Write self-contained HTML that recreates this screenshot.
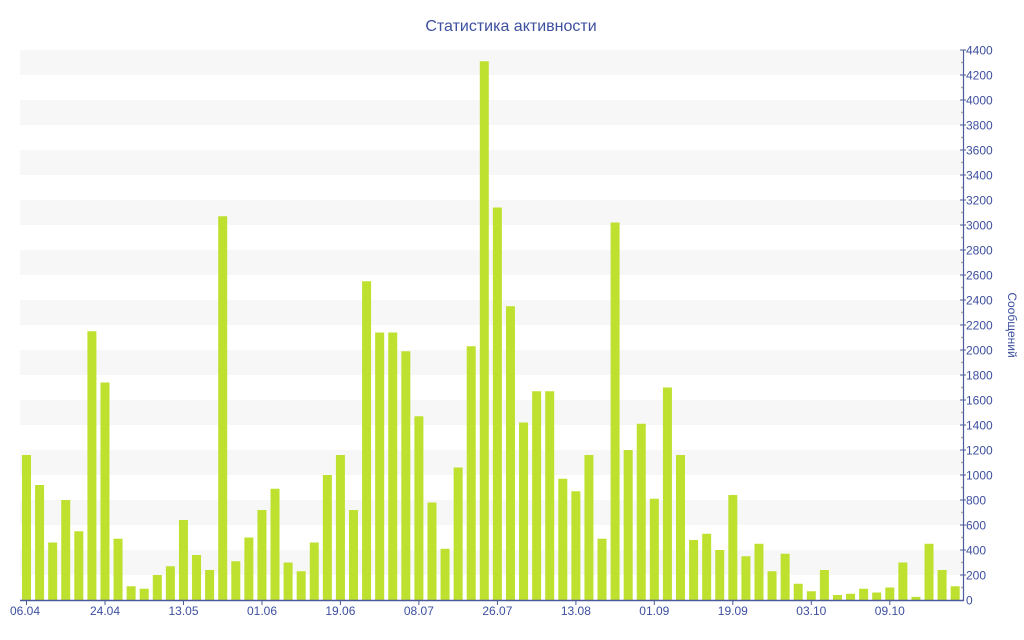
<!DOCTYPE html>
<html><head><meta charset="utf-8"><style>body{margin:0;background:#fff}svg{display:block}</style></head><body>
<svg width="1024" height="640" xmlns="http://www.w3.org/2000/svg" font-family="'Liberation Sans','DejaVu Sans',sans-serif">
<text x="511" y="31" text-anchor="middle" font-size="16" fill="#3d4f9f">Статистика активности</text>
<g fill="#f7f7f7">
<rect x="20" y="50" width="942" height="25"/><rect x="20" y="100" width="942" height="25"/><rect x="20" y="150" width="942" height="25"/><rect x="20" y="200" width="942" height="25"/><rect x="20" y="250" width="942" height="25"/><rect x="20" y="300" width="942" height="25"/><rect x="20" y="350" width="942" height="25"/><rect x="20" y="400" width="942" height="25"/><rect x="20" y="450" width="942" height="25"/><rect x="20" y="500" width="942" height="25"/><rect x="20" y="550" width="942" height="25"/>
</g>
<g transform="translate(0,600) scale(1,-0.125)" fill="#bee130">
<rect x="22.00" y="0" width="9" height="1160"/><rect x="35.08" y="0" width="9" height="920"/><rect x="48.16" y="0" width="9" height="460"/><rect x="61.24" y="0" width="9" height="800"/><rect x="74.32" y="0" width="9" height="550"/><rect x="87.40" y="0" width="9" height="2150"/><rect x="100.48" y="0" width="9" height="1740"/><rect x="113.56" y="0" width="9" height="490"/><rect x="126.64" y="0" width="9" height="110"/><rect x="139.72" y="0" width="9" height="90"/><rect x="152.80" y="0" width="9" height="200"/><rect x="165.88" y="0" width="9" height="270"/><rect x="178.96" y="0" width="9" height="640"/><rect x="192.04" y="0" width="9" height="360"/><rect x="205.12" y="0" width="9" height="240"/><rect x="218.20" y="0" width="9" height="3070"/><rect x="231.28" y="0" width="9" height="310"/><rect x="244.36" y="0" width="9" height="500"/><rect x="257.44" y="0" width="9" height="720"/><rect x="270.52" y="0" width="9" height="890"/><rect x="283.60" y="0" width="9" height="300"/><rect x="296.68" y="0" width="9" height="230"/><rect x="309.76" y="0" width="9" height="460"/><rect x="322.84" y="0" width="9" height="1000"/><rect x="335.92" y="0" width="9" height="1160"/><rect x="349.00" y="0" width="9" height="720"/><rect x="362.08" y="0" width="9" height="2550"/><rect x="375.16" y="0" width="9" height="2140"/><rect x="388.24" y="0" width="9" height="2140"/><rect x="401.32" y="0" width="9" height="1990"/><rect x="414.40" y="0" width="9" height="1470"/><rect x="427.48" y="0" width="9" height="780"/><rect x="440.56" y="0" width="9" height="410"/><rect x="453.64" y="0" width="9" height="1060"/><rect x="466.72" y="0" width="9" height="2030"/><rect x="479.80" y="0" width="9" height="4310"/><rect x="492.88" y="0" width="9" height="3140"/><rect x="505.96" y="0" width="9" height="2350"/><rect x="519.04" y="0" width="9" height="1420"/><rect x="532.12" y="0" width="9" height="1670"/><rect x="545.20" y="0" width="9" height="1670"/><rect x="558.28" y="0" width="9" height="970"/><rect x="571.36" y="0" width="9" height="870"/><rect x="584.44" y="0" width="9" height="1160"/><rect x="597.52" y="0" width="9" height="490"/><rect x="610.60" y="0" width="9" height="3020"/><rect x="623.68" y="0" width="9" height="1200"/><rect x="636.76" y="0" width="9" height="1410"/><rect x="649.84" y="0" width="9" height="810"/><rect x="662.92" y="0" width="9" height="1700"/><rect x="676.00" y="0" width="9" height="1160"/><rect x="689.08" y="0" width="9" height="480"/><rect x="702.16" y="0" width="9" height="530"/><rect x="715.24" y="0" width="9" height="400"/><rect x="728.32" y="0" width="9" height="840"/><rect x="741.40" y="0" width="9" height="350"/><rect x="754.48" y="0" width="9" height="450"/><rect x="767.56" y="0" width="9" height="230"/><rect x="780.64" y="0" width="9" height="370"/><rect x="793.72" y="0" width="9" height="130"/><rect x="806.80" y="0" width="9" height="70"/><rect x="819.88" y="0" width="9" height="240"/><rect x="832.96" y="0" width="9" height="40"/><rect x="846.04" y="0" width="9" height="50"/><rect x="859.12" y="0" width="9" height="90"/><rect x="872.20" y="0" width="9" height="60"/><rect x="885.28" y="0" width="9" height="100"/><rect x="898.36" y="0" width="9" height="300"/><rect x="911.44" y="0" width="9" height="25"/><rect x="924.52" y="0" width="9" height="450"/><rect x="937.60" y="0" width="9" height="240"/><rect x="950.68" y="0" width="9" height="110"/>
</g>
<line x1="20" y1="600.5" x2="964" y2="600.5" stroke="#4a5a9a" stroke-width="1.5"/>
<line x1="963.5" y1="50" x2="963.5" y2="601" stroke="#4a5a9a" stroke-width="1.2"/>
<g stroke="#aaa" stroke-width="1.5">
<line x1="961" y1="62.5" x2="963" y2="62.5"/><line x1="961" y1="87.5" x2="963" y2="87.5"/><line x1="961" y1="112.5" x2="963" y2="112.5"/><line x1="961" y1="137.5" x2="963" y2="137.5"/><line x1="961" y1="162.5" x2="963" y2="162.5"/><line x1="961" y1="187.5" x2="963" y2="187.5"/><line x1="961" y1="212.5" x2="963" y2="212.5"/><line x1="961" y1="237.5" x2="963" y2="237.5"/><line x1="961" y1="262.5" x2="963" y2="262.5"/><line x1="961" y1="287.5" x2="963" y2="287.5"/><line x1="961" y1="312.5" x2="963" y2="312.5"/><line x1="961" y1="337.5" x2="963" y2="337.5"/><line x1="961" y1="362.5" x2="963" y2="362.5"/><line x1="961" y1="387.5" x2="963" y2="387.5"/><line x1="961" y1="412.5" x2="963" y2="412.5"/><line x1="961" y1="437.5" x2="963" y2="437.5"/><line x1="961" y1="462.5" x2="963" y2="462.5"/><line x1="961" y1="487.5" x2="963" y2="487.5"/><line x1="961" y1="512.5" x2="963" y2="512.5"/><line x1="961" y1="537.5" x2="963" y2="537.5"/><line x1="961" y1="562.5" x2="963" y2="562.5"/><line x1="961" y1="587.5" x2="963" y2="587.5"/>
</g>
<g stroke="#4a5a9a">
<line x1="960" y1="50" x2="966" y2="50"/><line x1="960" y1="75" x2="966" y2="75"/><line x1="960" y1="100" x2="966" y2="100"/><line x1="960" y1="125" x2="966" y2="125"/><line x1="960" y1="150" x2="966" y2="150"/><line x1="960" y1="175" x2="966" y2="175"/><line x1="960" y1="200" x2="966" y2="200"/><line x1="960" y1="225" x2="966" y2="225"/><line x1="960" y1="250" x2="966" y2="250"/><line x1="960" y1="275" x2="966" y2="275"/><line x1="960" y1="300" x2="966" y2="300"/><line x1="960" y1="325" x2="966" y2="325"/><line x1="960" y1="350" x2="966" y2="350"/><line x1="960" y1="375" x2="966" y2="375"/><line x1="960" y1="400" x2="966" y2="400"/><line x1="960" y1="425" x2="966" y2="425"/><line x1="960" y1="450" x2="966" y2="450"/><line x1="960" y1="475" x2="966" y2="475"/><line x1="960" y1="500" x2="966" y2="500"/><line x1="960" y1="525" x2="966" y2="525"/><line x1="960" y1="550" x2="966" y2="550"/><line x1="960" y1="575" x2="966" y2="575"/>
<line x1="26.5" y1="600" x2="26.5" y2="605"/><line x1="105" y1="600" x2="105" y2="605"/><line x1="183.5" y1="600" x2="183.5" y2="605"/><line x1="262" y1="600" x2="262" y2="605"/><line x1="340.4" y1="600" x2="340.4" y2="605"/><line x1="418.9" y1="600" x2="418.9" y2="605"/><line x1="497.4" y1="600" x2="497.4" y2="605"/><line x1="575.9" y1="600" x2="575.9" y2="605"/><line x1="654.3" y1="600" x2="654.3" y2="605"/><line x1="732.8" y1="600" x2="732.8" y2="605"/><line x1="811.3" y1="600" x2="811.3" y2="605"/><line x1="889.8" y1="600" x2="889.8" y2="605"/>
</g>
<g font-size="12" fill="#3d4f9f">
<text x="966" y="54.5">4400</text><text x="966" y="79.5">4200</text><text x="966" y="104.5">4000</text><text x="966" y="129.5">3800</text><text x="966" y="154.5">3600</text><text x="966" y="179.5">3400</text><text x="966" y="204.5">3200</text><text x="966" y="229.5">3000</text><text x="966" y="254.5">2800</text><text x="966" y="279.5">2600</text><text x="966" y="304.5">2400</text><text x="966" y="329.5">2200</text><text x="966" y="354.5">2000</text><text x="966" y="379.5">1800</text><text x="966" y="404.5">1600</text><text x="966" y="429.5">1400</text><text x="966" y="454.5">1200</text><text x="966" y="479.5">1000</text><text x="966" y="504.5">800</text><text x="966" y="529.5">600</text><text x="966" y="554.5">400</text><text x="966" y="579.5">200</text><text x="966" y="604.5">0</text>
</g>
<g font-size="12" fill="#3d4f9f" text-anchor="middle">
<text x="25" y="615">06.04</text><text x="105" y="615">24.04</text><text x="183.5" y="615">13.05</text><text x="262" y="615">01.06</text><text x="340.4" y="615">19.06</text><text x="418.9" y="615">08.07</text><text x="497.4" y="615">26.07</text><text x="575.9" y="615">13.08</text><text x="654.3" y="615">01.09</text><text x="732.8" y="615">19.09</text><text x="811.3" y="615">03.10</text><text x="889.8" y="615">09.10</text>
</g>
<text transform="translate(1008,325) rotate(90)" text-anchor="middle" font-size="12" fill="#3d4f9f">Сообщений</text>
</svg>
</body></html>
